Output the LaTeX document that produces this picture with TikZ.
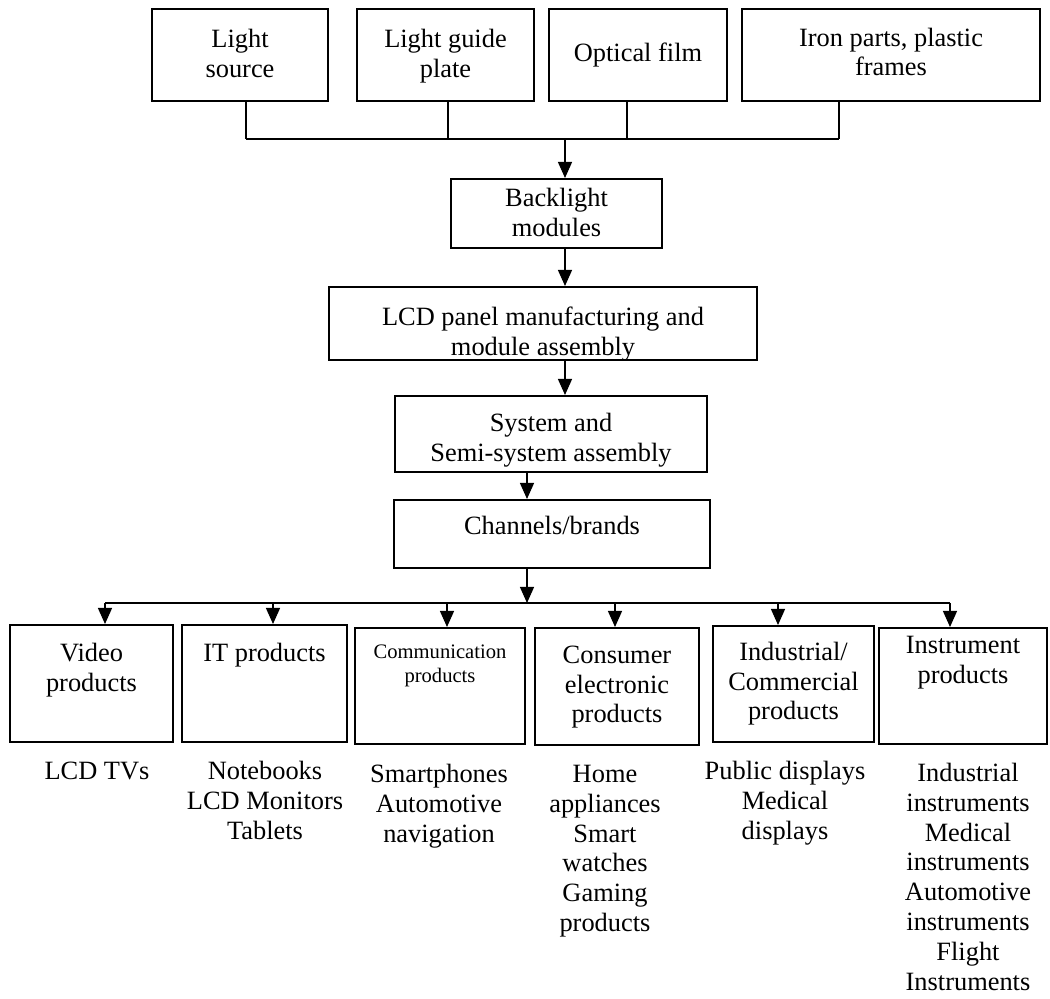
\documentclass[tikz,border=0pt]{standalone}
\usepackage{fontspec}
\setmainfont{Liberation Serif}
\usetikzlibrary{arrows.meta}
\newcommand\bxt[4]{\parbox[t][#2][t]{#1}{\centering\rule{0pt}{#3}#4}}
\begin{document}
\begin{tikzpicture}[x=0.5pt,y=-0.5pt,
  box/.style={draw, line width=1pt, inner sep=0pt, font=\fontsize{13.2}{14.6}\selectfont},
  smallbox/.style={box, font=\fontsize{10.3}{12}\selectfont},
  lst/.style={anchor=north, inner sep=0pt, align=center, font=\fontsize{13.2}{14.9}\selectfont},
  conn/.style={line width=0.6pt},
  bus/.style={line width=0.9pt},
  arr/.style={line width=0.6pt, -{Triangle[length=8pt,width=7pt]}}]
\useasboundingbox (0,0) rectangle (1050,999);
% top row
\node[box] (ls)  at (240,55)   {\bxt{88pt}{46pt}{19.5pt}{Light\\source}};
\node[box] (lgp) at (445.5,55) {\bxt{88.5pt}{46pt}{19.5pt}{Light guide\\plate}};
\node[box] (of)  at (638,55)   {\bxt{89pt}{46pt}{26.5pt}{Optical film}};
\node[box] (ip)  at (891,55)   {\bxt{149pt}{46pt}{18.75pt}{Iron parts, plastic\\frames}};
% chain
\node[box] (bl)  at (556.5,213.5) {\bxt{105.5pt}{34.5pt}{14pt}{Backlight\\modules}};
\node[box] (lcd) at (543,323.5)   {\bxt{214pt}{36.5pt}{19.5pt}{LCD panel manufacturing and\\module assembly}};
\node[box] (sys) at (551,434)     {\bxt{156pt}{38pt}{18pt}{System and\\Semi-system assembly}};
\node[box] (ch)  at (552,534)     {\bxt{158pt}{34pt}{17.5pt}{Channels/brands}};
% bottom row
\node[box] (vid) at (91.5,683.5) {\bxt{81.5pt}{58.5pt}{18.5pt}{Video\\products}};
\node[box] (it)  at (264.5,683.5) {\bxt{82.5pt}{58.5pt}{18.5pt}{IT products}};
\node[smallbox] (com) at (440,686) {\bxt{85pt}{58pt}{15.5pt}{Communication\\products}};
\node[box] (con) at (617,686.5) {\bxt{82pt}{58.5pt}{18pt}{Consumer\\electronic\\products}};
\node[box] (ind) at (793.5,684) {\bxt{80.5pt}{58pt}{17.5pt}{Industrial/\\Commercial\\products}};
\node[box] (ins) at (963,686) {\bxt{84pt}{58pt}{13pt}{Instrument\\products}};
% lists
\node[lst] (l1) at (97,759)  {\rule{0pt}{10pt}LCD TVs};
\node[lst] (l2) at (265,759) {\rule{0pt}{10pt}Notebooks\\LCD Monitors\\Tablets};
\node[lst] (l3) at (439,762) {\rule{0pt}{10pt}Smartphones\\Automotive\\navigation};
\node[lst] (l4) at (605,762) {\rule{0pt}{10pt}Home\\appliances\\Smart\\watches\\Gaming\\products};
\node[lst] (l5) at (785,759) {\rule{0pt}{10pt}Public displays\\Medical\\displays};
\node[lst] (l6) at (968,761) {\rule{0pt}{10pt}Industrial\\instruments\\Medical\\instruments\\Automotive\\instruments\\Flight\\Instruments};
% top bus
\coordinate (b1) at (246,139);
\coordinate (b2) at (448,139);
\coordinate (b3) at (627,139);
\coordinate (b4) at (839,139);
\coordinate (bm) at (565,139);
\draw[conn] (ls.south -| b1) -- (b1);
\draw[conn] (lgp.south -| b2) -- (b2);
\draw[conn] (of.south -| b3) -- (b3);
\draw[conn] (ip.south -| b4) -- (b4);
\draw[bus] (b1) -- (b4);
\draw[arr] (bm) -- (bm |- bl.north);
\draw[arr] (bl.south -| bm) -- (lcd.north -| bm);
\draw[arr] (lcd.south -| bm) -- (sys.north -| bm);
% lower bus
\coordinate (cx) at (527,603);
\draw[arr] (sys.south -| cx) -- (ch.north -| cx);
\draw[arr] (ch.south -| cx) -- (cx);
\coordinate (d1) at (105,603);
\coordinate (d2) at (273,603);
\coordinate (d3) at (447,603);
\coordinate (d4) at (615,603);
\coordinate (d5) at (778,603);
\coordinate (d6) at (950,603);
\draw[bus] (d1) -- (d6);
\draw[arr] (d1) -- (d1 |- vid.north);
\draw[arr] (d2) -- (d2 |- it.north);
\draw[arr] (d3) -- (d3 |- com.north);
\draw[arr] (d4) -- (d4 |- con.north);
\draw[arr] (d5) -- (d5 |- ind.north);
\draw[arr] (d6) -- (d6 |- ins.north);
\end{tikzpicture}
\end{document}
